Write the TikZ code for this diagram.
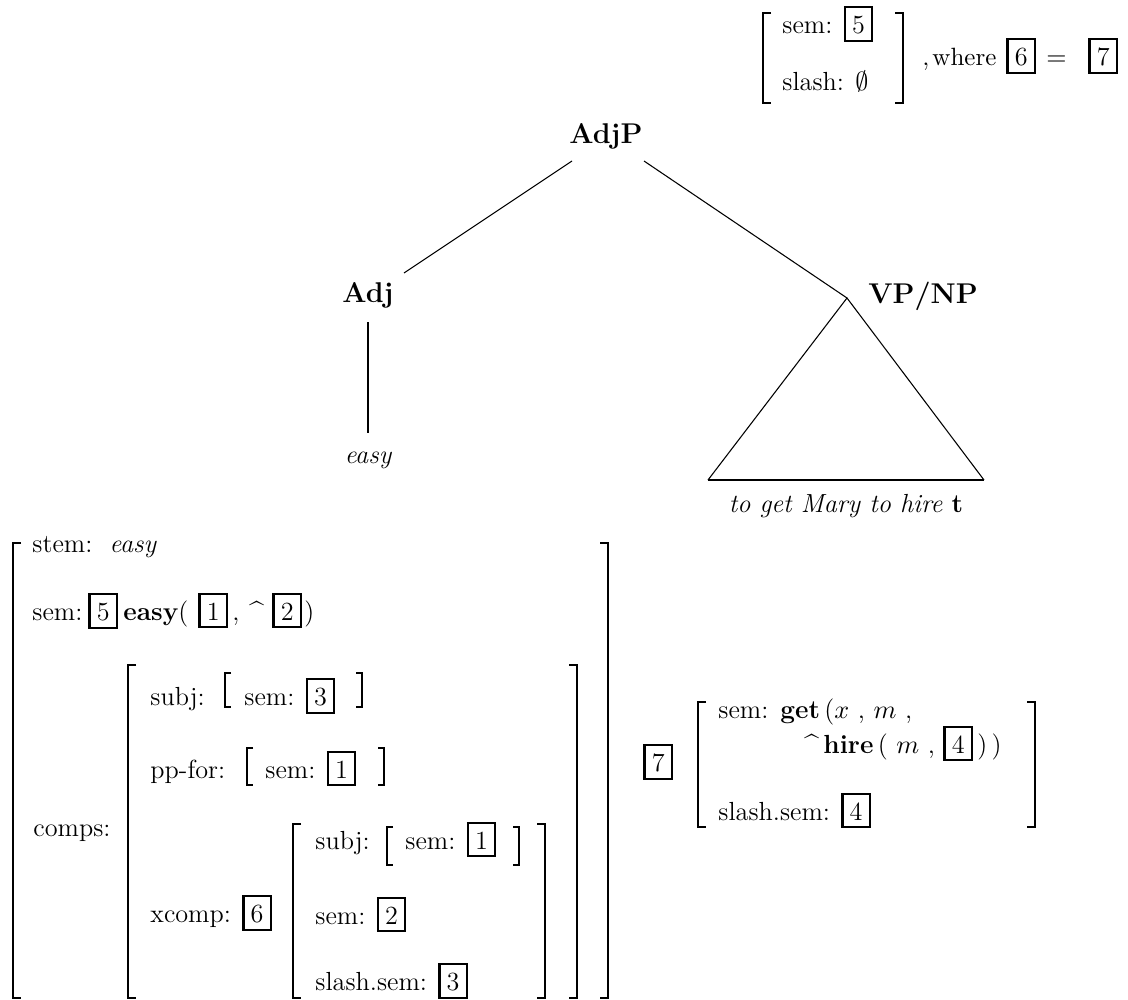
\documentclass[tikz,border=0pt]{standalone}
\newcommand\bx[1]{{\fboxsep=2.6pt\fboxrule=0.9pt\fbox{\rule{0pt}{7.8pt}#1}}}
\newcommand\LB[4][thk]{\draw[#1] ({#2+8},#3) -- (#2,#3) -- (#2,#4) -- ({#2+8},#4);}
\newcommand\RB[4][thk]{\draw[#1] ({#2-8},#3) -- (#2,#3) -- (#2,#4) -- ({#2-8},#4);}
\newcommand\lb[3]{\draw[thn] ({#1+6},#2) -- (#1,#2) -- (#1,#3) -- ({#1+6},#3);}
\newcommand\rb[3]{\draw[thn] ({#1-6},#2) -- (#1,#2) -- (#1,#3) -- ({#1-6},#3);}
\begin{document}
\begin{tikzpicture}[x=0.42pt,y=-0.42pt,
  txt/.style={anchor=base west,inner sep=0pt,font=\fontsize{11}{13}\selectfont},
  cat/.style={anchor=base,inner sep=0pt,font=\fontsize{12}{14}\selectfont\bfseries},
  leaf/.style={anchor=base,inner sep=0pt,font=\fontsize{11}{13}\selectfont\itshape},
  thk/.style={line width=1.1pt},
  thn/.style={line width=0.5pt},
  edge/.style={line width=0.45pt}]
\useasboundingbox (0,0) rectangle (1128,1000);

% ---- top feature structure
\LB{763}{13}{103} \RB{903}{13}{103}
\node[txt] (tsem) at (782,33) {sem: \bx{5}};
\node[txt] (tslash) at (782,90) {slash: $\emptyset$};
\node[txt] (comma) at (922,65) {,};
\node[txt,font=\fontsize{10.5}{13}\selectfont] (where) at (932,65) {where};
\node[txt] (wb6) at (1006,65) {\bx{6}};
\node[txt] (eq) at (1046,65) {$=$};
\node[txt] (wb7) at (1088,65) {\bx{7}};

% ---- tree
\node[cat] (adjp) at (606,143) {AdjP};
\node[cat] (adj) at (368,302) {Adj};
\node[cat] (vpnp) at (923,303) {VP/NP};
\node[leaf] (easy) at (368,463) {easy};
\node[leaf] (yield) at (846,512) {to get Mary to hire \textup{\textbf{t}}};
\coordinate (a1) at (572,161);
\coordinate (a2) at (404,273);
\coordinate (b1) at (644,161);
\coordinate (apex) at (847,298);
\coordinate (c1) at (368,322);
\coordinate (c2) at (368,433);
\coordinate (tl) at (708,480);
\coordinate (tr) at (984,480);
\draw[edge] (a1) -- (a2);
\draw[edge] (b1) -- (apex);
\draw[line width=0.8pt] (c1) -- (c2);
\draw[edge] (tl) -- (apex) -- (tr);
\draw[line width=0.9pt] (tl) -- (tr);

% ---- bottom feature structure
\LB{13}{543}{998} \RB{608}{543}{998}
\node[txt] (stem) at (32,552) {stem:\ \ \textit{easy}};
\node[txt] (bsem) at (32,620) {sem:};
\node[txt] (bsem5) at (88,620) {\bx{5}};
\node[txt] (beasy) at (123,620) {\textbf{easy}(};
\node[txt] (bsem1) at (198,620) {\bx{1}};
\node[txt] (bcomma) at (232,620) {,};
\node[txt] (bhat) at (249,620) {\^{}};
\node[txt] (bsem2) at (272,620) {\bx{2}};
\node[txt] (bclose) at (304,620) {)};
\node[txt] (comps) at (33,836) {comps:};
\LB{128}{665}{998} \RB{577}{665}{998}
\node[txt] (subj) at (150,705) {subj:};
\lb{225}{673}{707} \rb{362}{673}{707}
\node[txt] (subjsem) at (244,705) {sem: \bx{3}};
\node[txt] (ppfor) at (150,778) {pp-for:};
\lb{247}{748}{785} \rb{384}{748}{785}
\node[txt] (ppsem) at (265,778) {sem: \bx{1}};
\node[txt] (xcomp) at (150,922) {xcomp: \bx{6}};
\LB{293}{824}{998} \RB{545}{824}{998}
\node[txt] (xsubj) at (315,849) {subj:};
\lb{387}{827}{865} \rb{519}{827}{865}
\node[txt] (xsubjsem) at (405,849) {sem: \bx{1}};
\node[txt] (xsem) at (315,924) {sem: \bx{2}};
\node[txt] (xslash) at (315,990) {slash.sem: \bx{3}};

% ---- right feature structure
\node[txt] (r7) at (643,771) {\bx{7}};
\LB{698}{702}{827} \RB{1035}{702}{827}
\node[txt] (rsem) at (718,718) {sem:};
\node[txt] (rget) at (780,718) {\textbf{get}\,($x$ , $m$ ,};
\node[txt] (rhire) at (804,753) {\^{}\,\textbf{hire}\,( $m$ , \bx{4}\,)\,)};
\node[txt] (rslash) at (718,820) {slash.sem: \bx{4}};
\end{tikzpicture}
\end{document}
